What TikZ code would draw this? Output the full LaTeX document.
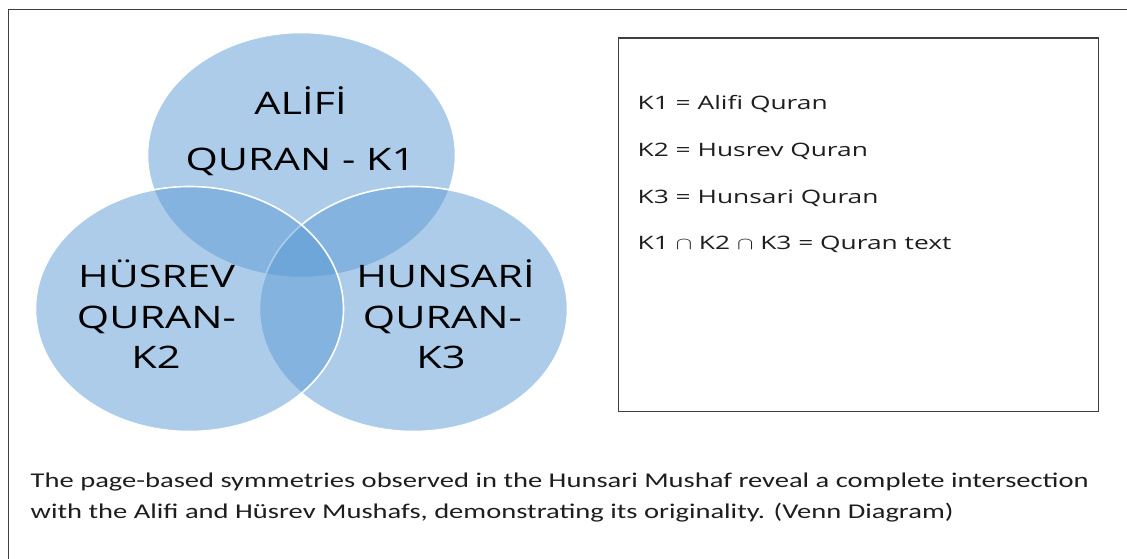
\documentclass[tikz,border=0pt]{standalone}
\usepackage{fontspec}
\usepackage{graphicx}
\newfontfamily\vennfont{Open Sans}
\newfontfamily\capfont{Carlito}
\definecolor{vennblue}{HTML}{5B9BD5}
\definecolor{framegray}{HTML}{3F3F3F}
\definecolor{txtdark}{HTML}{1E1E1E}
\newlength\wdA
\newlength\wdB
\newlength\wdC
\newcommand\bigfnt{\vennfont\fontsize{31}{37}\selectfont}
\newcommand\legfnt{\vennfont\fontsize{18.5}{22}\selectfont}
\newcommand\capfnt{\capfont\fontsize{21}{25}\selectfont}
\settowidth\wdA{\bigfnt HÜSREV}
\settowidth\wdB{\legfnt K1 = Alifi Quran}
\settowidth\wdC{\capfnt The page-based symmetries observed in the Hunsari Mushaf reveal a complete intersection}
\pgfmathsetmacro\vf{157/\wdA}
\pgfmathsetmacro\lf{190/\wdB}
\pgfmathsetmacro\cf{1058/\wdC}
\tikzset{
  vennset/.style={fill=vennblue, fill opacity=0.5, draw=white, line width=1.6pt},
  bigtxt/.style={inner sep=0pt, anchor=base, font=\bigfnt, text=black},
  legtxt/.style={inner sep=0pt, anchor=base west, font=\legfnt, text=txtdark},
  captxt/.style={inner sep=0pt, anchor=base west, font=\capfnt, text=txtdark},
  frameline/.style={draw=framegray, line width=1.4pt},
  legendbox/.style={draw=framegray, line width=1.3pt, inner sep=0pt, anchor=north west,
    minimum width=479.5pt, minimum height=373pt}
}
\begin{document}
\begin{tikzpicture}[x=1pt,y=-1pt]
\useasboundingbox (0,0) rectangle (1127,559);
\fill[white] (0,0) rectangle (1127,559);
% outer frame
\draw[frameline] (8.5,559) -- (8.5,9.5) -- (1127,9.5);
% venn sets (order: top, right, left)
\draw[vennset] (301.5,155) ellipse [x radius=154pt, y radius=122.5pt];
\draw[vennset] (413.5,309) ellipse [x radius=154pt, y radius=122.5pt];
\draw[vennset] (189.5,309) ellipse [x radius=154pt, y radius=122.5pt];
% set labels
\node[bigtxt] (k1a) at (300.5,115) {\scalebox{\vf}[1]{ALİFİ}};
\node[bigtxt] (k1b) at (300.5,170) {\scalebox{\vf}[1]{QURAN - K1}};
\node[bigtxt] (k2a) at (156.5,287.5) {\scalebox{\vf}[1]{HÜSREV}};
\node[bigtxt] (k2b) at (156.5,328) {\scalebox{\vf}[1]{QURAN-}};
\node[bigtxt] (k2c) at (156,368.5) {\scalebox{\vf}[1]{K2}};
\node[bigtxt] (k3a) at (445.5,287.5) {\scalebox{\vf}[1]{HUNSARİ}};
\node[bigtxt] (k3b) at (442.5,328) {\scalebox{\vf}[1]{QURAN-}};
\node[bigtxt] (k3c) at (441,368.5) {\scalebox{\vf}[1]{K3}};
% legend
\node[legendbox] (legbox) at (618,37.5) {};
\node[legtxt] (l1) at (637.5,110) {\scalebox{\lf}[1]{K1 = Alifi Quran}};
\node[legtxt] (l2) at (637.5,156.5) {\scalebox{\lf}[1]{K2 = Husrev Quran}};
\node[legtxt] (l3) at (637.5,203) {\scalebox{\lf}[1]{K3 = Hunsari Quran}};
\node[legtxt] (l4) at (637.5,249.5) {\scalebox{\lf}[1]{K1 \(\cap\) K2 \(\cap\) K3 = Quran text}};
% caption
\node[captxt] (c1) at (30.5,487.5) {\scalebox{\cf}[1]{The page-based symmetries observed in the Hunsari Mushaf reveal a complete intersection}};
\node[captxt] (c2) at (30.5,518.5) {\scalebox{\cf}[1]{with the Alifi and Hüsrev Mushafs, demonstrating its originality. (Venn Diagram)}};
\end{tikzpicture}
\end{document}
